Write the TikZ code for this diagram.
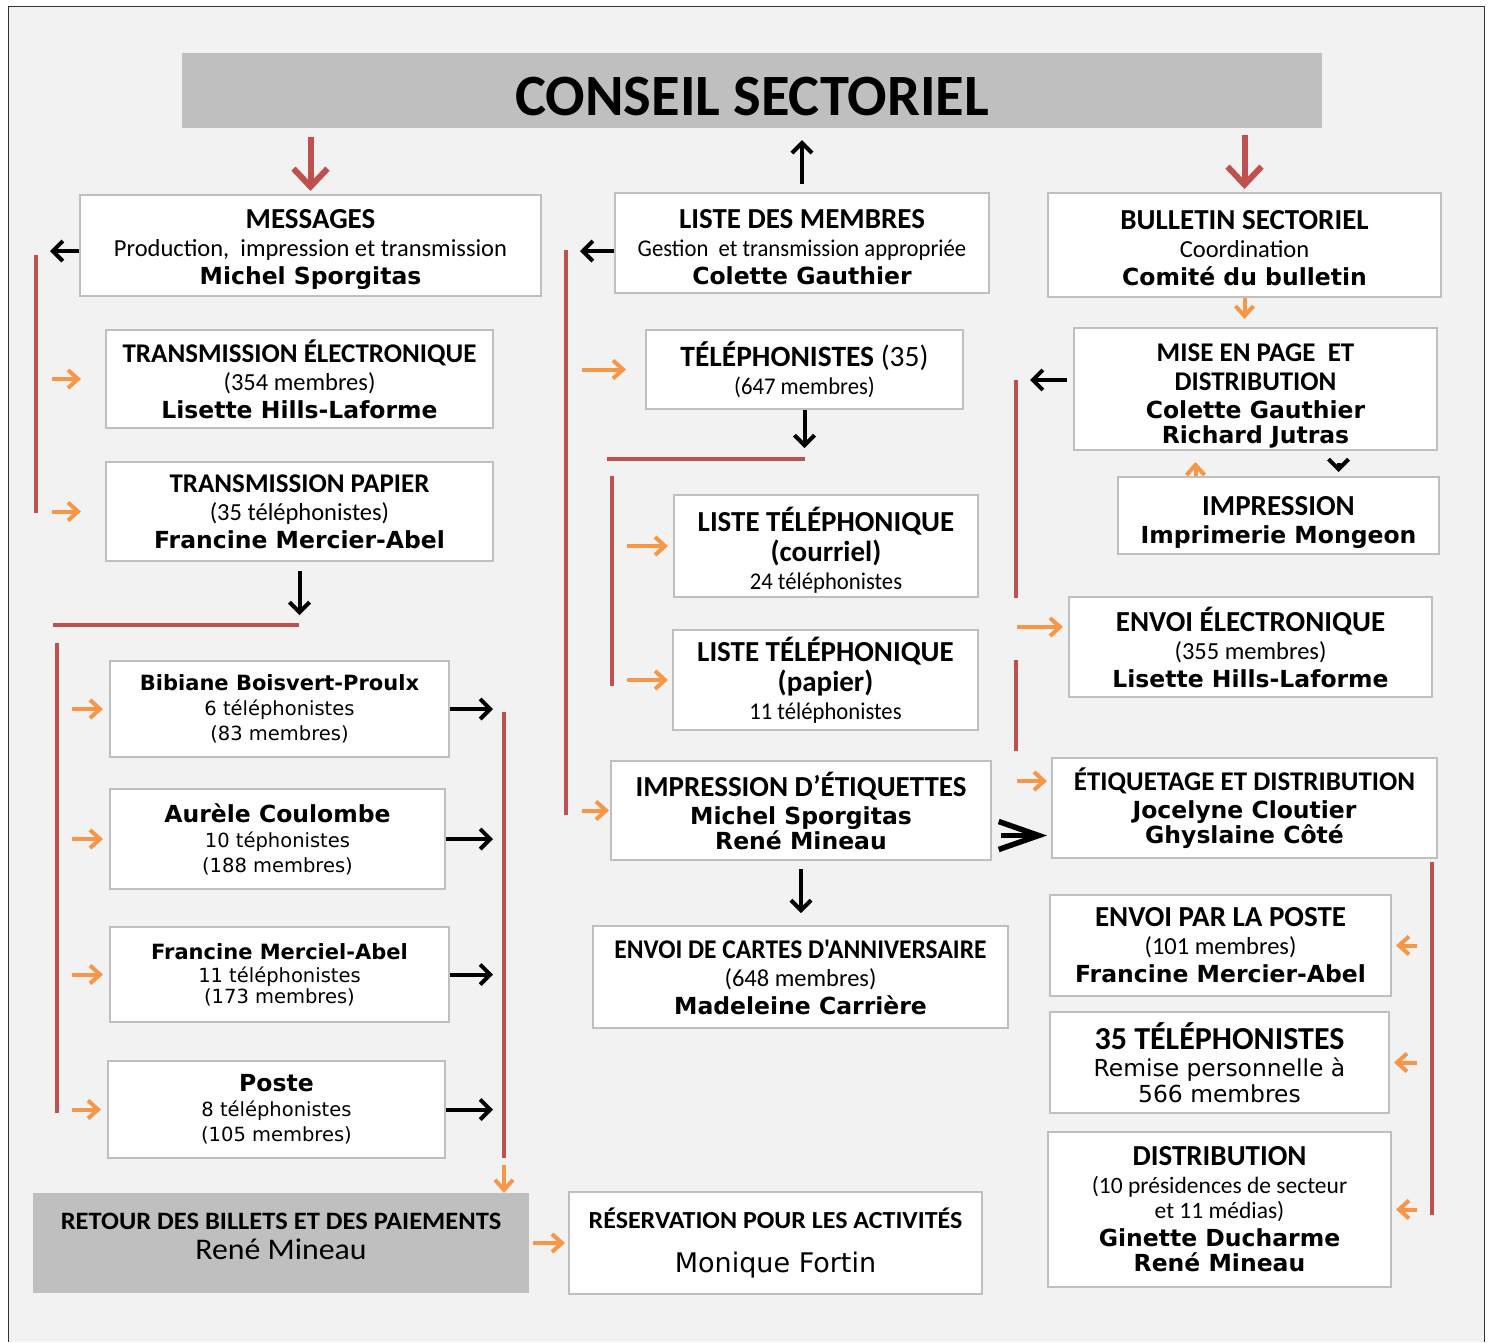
\documentclass[tikz,border=0pt]{standalone}
\usepackage{fontspec}
\setmainfont{Carlito}
\newfontfamily\verdfont{DejaVu Sans}
\newfontfamily\calcond[FakeStretch=0.945]{Carlito}
\newfontfamily\calwide[FakeStretch=1.06]{Carlito}
\usetikzlibrary{arrows.meta,positioning,calc}

\definecolor{fond}{HTML}{F2F2F2}
\definecolor{cadre}{HTML}{BFBFBF}
\definecolor{titre}{HTML}{BFBFBF}
\definecolor{rouge}{HTML}{C0504D}
\definecolor{orangef}{HTML}{F79646}

\newcommand{\bxhead}[1]{{\bfseries\fontsize{29}{28}\selectfont #1}}
\newcommand{\bxheadS}[1]{{\bfseries\fontsize{27}{28}\selectfont #1}}
\newcommand{\bxname}[1]{{\verdfont\bfseries\fontsize{23.5}{28}\selectfont #1}}
\newcommand{\bxverd}[1]{{\verdfont\fontsize{19.5}{28}\selectfont #1}}
\newcommand{\bxcond}[1]{{\calcond\fontsize{24}{28}\selectfont #1}}

\begin{document}
\begin{tikzpicture}[x=1pt,y=-1pt,
  box/.style={draw=cadre,line width=2pt,fill=white,align=center,inner sep=0pt,font=\fontsize{24.5}{28}\selectfont},
  grisbox/.style={fill=titre,align=center,inner sep=0pt,font=\fontsize{24.5}{28}\selectfont},
  barre/.style={rouge,line width=4.5pt},
  flN/.style={-{Straight Barb[length=10pt,width=20pt]},line width=4pt},
  flNB/.style={-{Straight Barb[length=40pt,width=28pt]},line width=5.5pt},
  flO/.style={orangef,-{Straight Barb[length=10pt,width=18pt]},line width=4pt},
  flR/.style={rouge,-{Straight Barb[length=18pt,width=34pt]},line width=6pt}]
\useasboundingbox (0,0) rectangle (1492,1342);
\fill[white] (0,0) rectangle (1492,1342);
\fill[fond] (8,6) rectangle (1484,1342);
\draw[line width=1pt,black!80] (8,1342) -- (8,6) -- (1484,6) -- (1484,1342);

% titre
\node[grisbox,minimum width=1140,minimum height=75,text height=49pt,text depth=0pt,font=\bfseries\fontsize{58.5}{60}\selectfont] (conseil) at (752,90.5) {CONSEIL SECTORIEL};

% premiere rangee
\node[box,minimum width=461,minimum height=101] (msg) at (310.5,245.5)
  {\mbox{}\\[-1pt] \bxhead{MESSAGES}\\ Production,\ \ impression et transmission\\ \bxname{Michel Sporgitas}};
\node[box,minimum width=374,minimum height=100] (liste) at (802,243)
  {\mbox{}\\[-1pt] \bxhead{LISTE DES MEMBRES}\\ \bxcond{Gestion\ \ et transmission appropriée}\\ \bxname{Colette Gauthier}};
\node[box,minimum width=393,minimum height=104] (bull) at (1244.5,245)
  {\mbox{}\\[-3pt] \bxhead{BULLETIN SECTORIEL}\\ Coordination\\ \bxname{Comité du bulletin}};

% messages
\node[box,minimum width=387,minimum height=98] (telec) at (299.5,379)
  {\bxheadS{TRANSMISSION ÉLECTRONIQUE}\\ (354 membres)\\ \bxname{Lisette Hills-Laforme}};
\node[box,minimum width=387,minimum height=99] (tpap) at (299.5,511.5)
  {\bxheadS{TRANSMISSION PAPIER}\\ (35 téléphonistes)\\ \bxname{Francine Mercier-Abel}};
\node[box,minimum width=339,minimum height=96] (bib) at (279.5,709)
  {{\verdfont\bfseries\fontsize{21}{25}\selectfont Bibiane Boisvert-Proulx}\\[-3pt] \bxverd{6 téléphonistes}\\[-3pt] \bxverd{(83 membres)}};
\node[box,minimum width=335,minimum height=100] (aur) at (277.5,839)
  {\bxname{Aurèle Coulombe}\\[-3pt] \bxverd{10 téphonistes}\\[-3pt] \bxverd{(188 membres)}};
\node[box,minimum width=339,minimum height=95] (franc) at (279.5,974.5)
  {{\verdfont\bfseries\fontsize{21}{25}\selectfont Francine Merciel-Abel}\\[-5pt] \bxverd{11 téléphonistes}\\[-7pt] \bxverd{(173 membres)}};
\node[box,minimum width=337,minimum height=97] (poste) at (276.5,1109.5)
  {\bxname{Poste}\\[-3pt] \bxverd{8 téléphonistes}\\[-3pt] \bxverd{(105 membres)}};
\node[grisbox,minimum width=496,minimum height=100] (retour) at (281,1243)
  {{\calwide\bfseries\fontsize{25}{28}\selectfont RETOUR DES BILLETS ET DES PAIEMENTS}\\[2pt] {\calwide\fontsize{30}{30}\selectfont René Mineau}\\[-14pt] \mbox{}};

% liste des membres
\node[box,minimum width=317,minimum height=79] (tel35) at (804.5,369.5)
  {{\bfseries\fontsize{29.5}{28}\selectfont TÉLÉPHONISTES {\mdseries(35)}}\\ \bxcond{(647 membres)}};
\node[box,minimum width=304,minimum height=102] (ltc) at (826,546)
  {\mbox{}\\[4pt] \bxhead{LISTE TÉLÉPHONIQUE}\\[2pt] \bxhead{(courriel)}\\ \bxcond{24 téléphonistes}};
\node[box,minimum width=305,minimum height=100] (ltp) at (825.5,680)
  {\bxhead{LISTE TÉLÉPHONIQUE}\\[2pt] \bxhead{(papier)}\\ \bxcond{11 téléphonistes}};
\node[box,minimum width=380,minimum height=99] (impet) at (801,810.5)
  {\bxhead{IMPRESSION D'ÉTIQUETTES}\\ \bxname{Michel Sporgitas}\\[-3pt] \bxname{René Mineau}};
\node[box,minimum width=415,minimum height=102] (carte) at (800.5,977)
  {{\calcond\bfseries\fontsize{27}{28}\selectfont ENVOI DE CARTES D'ANNIVERSAIRE}\\ (648 membres)\\ \bxname{Madeleine Carrière}};
\node[box,minimum width=413,minimum height=102] (reserv) at (775.5,1243)
  {{\calwide\bfseries\fontsize{24.5}{28}\selectfont RÉSERVATION POUR LES ACTIVITÉS}\\[16pt] {\verdfont\fontsize{27}{28}\selectfont Monique Fortin}};

% bulletin
\node[box,minimum width=363,minimum height=122] (mise) at (1255.5,389)
  {\mbox{}\\[3.4pt] \bxheadS{MISE EN PAGE\ \ ET}\\[1pt] \bxheadS{DISTRIBUTION}\\ \bxname{Colette Gauthier}\\[-3pt] \bxname{Richard Jutras}};
\node[box,minimum width=321,minimum height=77] (impr) at (1278.5,515.5)
  {\mbox{}\\[4.7pt] \bxhead{IMPRESSION}\\ \bxname{Imprimerie Mongeon}};
\node[box,minimum width=363,minimum height=100] (envel) at (1250.5,647)
  {\bxhead{ENVOI ÉLECTRONIQUE}\\ (355 membres)\\ \bxname{Lisette Hills-Laforme}};
\node[box,minimum width=385,minimum height=100] (etiq) at (1244.5,808)
  {\bxheadS{ÉTIQUETAGE ET DISTRIBUTION}\\ \bxname{Jocelyne Cloutier}\\[-3pt] \bxname{Ghyslaine Côté}};
\node[box,minimum width=341,minimum height=101] (envposte) at (1220.5,945.5)
  {\bxhead{ENVOI PAR LA POSTE}\\ (101 membres)\\ \bxname{Francine Mercier-Abel}};
\node[box,minimum width=339,minimum height=101] (tel35b) at (1219.5,1062.5)
  {{\bfseries\fontsize{32}{31}\selectfont 35 TÉLÉPHONISTES}\\[-1pt] {\verdfont\fontsize{23.4}{25}\selectfont Remise personnelle à}\\[-2pt] {\verdfont\fontsize{23.4}{25}\selectfont 566 membres}};
\node[box,minimum width=343,minimum height=155] (distr) at (1219.5,1209.5)
  {\bxhead{DISTRIBUTION}\\ {\fontsize{23.5}{28}\selectfont (10 présidences de secteur}\\[-3pt] {\fontsize{23.5}{28}\selectfont et 11 médias)}\\ \bxname{Ginette Ducharme}\\[-3pt] \bxname{René Mineau}};

% barres rouges
\coordinate (bA1) at (36,255);   \coordinate (bA2) at (36,513);
\coordinate (bB1) at (566,250);  \coordinate (bB2) at (566,815);
\coordinate (bC0) at (607,459);  \coordinate (bC1) at (805,459);
\coordinate (bC2) at (612,476);  \coordinate (bC3) at (612,686);
\coordinate (bD0) at (53,625);   \coordinate (bD1) at (299,625);
\coordinate (bD2) at (57,643);   \coordinate (bD3) at (57,1113);
\coordinate (bE1) at (504,712);  \coordinate (bE2) at (504,1158);
\coordinate (bF1) at (1016,380); \coordinate (bF2) at (1016,598);
\coordinate (bF3) at (1016,660); \coordinate (bF4) at (1016,751);
\coordinate (bG1) at (1432,862); \coordinate (bG2) at (1432,1215);
\draw[barre] (bA1) -- (bA2);
\draw[barre] (bB1) -- (bB2);
\draw[barre] (bC0) -- (bC1);
\draw[barre] (bC2) -- (bC3);
\draw[barre] (bD0) -- (bD1);
\draw[barre] (bD2) -- (bD3);
\draw[barre] (bE1) -- (bE2);
\draw[barre] (bF1) -- (bF2);
\draw[barre] (bF3) -- (bF4);
\draw[barre] (bG1) -- (bG2);

% points de depart decales
\coordinate (pMsg) at ([yshift=-5.5]msg.west);
\coordinate (pListe) at ([yshift=-8]liste.west);
\coordinate (pMise) at ([yshift=9]mise.west);
\coordinate (pEnv) at ([yshift=20]envel.west);
\coordinate (pEti) at ([yshift=27]etiq.west);
\coordinate (pImp) at ([yshift=-25]impet.east);
\coordinate (pUp) at ([xshift=-83]impr.north);
\coordinate (pDn) at ([xshift=60]impr.north);

% fleches du conseil
\draw[flR,shorten <=9pt,shorten >=3pt] (msg.north |- conseil.south) -- (msg.north);
\draw[flR,shorten <=7pt,shorten >=3pt] (bull.north |- conseil.south) -- (bull.north);
\draw[flN,shorten <=8pt,shorten >=12pt] (liste.north) -- (liste.north |- conseil.south);

% messages
\draw[flN,shorten >=14pt] (pMsg) -- (pMsg -| bA1);
\draw[flO,shorten <=16pt,shorten >=24pt] (bA1 |- telec.west) -- (telec.west);
\draw[flO,shorten <=16pt,shorten >=24pt] (bA1 |- tpap.west) -- (tpap.west);
\draw[flN,shorten <=9pt,shorten >=10pt] (tpap.south) -- (tpap.south |- bD1);
\foreach \n in {bib,aur,franc,poste} {
  \draw[flO,shorten <=15pt,shorten >=6pt] (bD2 |- \n.west) -- (\n.west);
  \draw[flN,shorten >=11pt] (\n.east) -- (\n.east -| bE1);
}
\draw[flO,shorten <=7pt] (bE2) -- (bE2 |- retour.north);
\draw[flO,shorten <=4pt,shorten >=3pt] (retour.east) -- (retour.east -| reserv.west);

% liste des membres
\draw[flN,shorten >=14pt] (pListe) -- (pListe -| bB1);
\draw[flO,shorten <=16pt,shorten >=19pt] (bB1 |- tel35.west) -- (tel35.west);
\draw[flO,shorten <=16pt,shorten >=1pt] (bB1 |- impet.west) -- (impet.west);
\draw[flN,shorten >=11pt] (tel35.south) -- (tel35.south |- bC1);
\draw[flO,shorten <=15pt,shorten >=5pt] (bC2 |- ltc.west) -- (ltc.west);
\draw[flO,shorten <=15pt,shorten >=4pt] (bC2 |- ltp.west) -- (ltp.west);
\draw[flN,shorten <=8pt,shorten >=12pt] (impet.south) -- (impet.south |- carte.north);
\draw[flNB,shorten <=9pt,shorten >=4pt] (pImp) -- (pImp -| etiq.west);

% bulletin
\draw[flO,shorten >=8pt] (bull.south) -- (bull.south |- mise.north);
\draw[flN,shorten <=6pt,shorten >=14pt] (pMise) -- (pMise -| bF1);
\draw[flO,shorten >=11pt] (pUp) -- (pUp |- mise.south);
\draw[flN,shorten <=12pt,shorten >=4pt] (pDn |- mise.south) -- (pDn);
\draw[flO,shorten <=1pt,shorten >=5pt] (pEnv -| bF1) -- (pEnv);
\draw[flO,shorten <=1pt,shorten >=4pt] (pEti -| bF1) -- (pEti);
\draw[flO,shorten <=15pt,shorten >=4pt] (bG1 |- envposte.east) -- (envposte.east);
\draw[flO,shorten <=15pt,shorten >=4pt] (bG1 |- tel35b.east) -- (tel35b.east);
\draw[flO,shorten <=15pt,shorten >=4pt] (bG1 |- distr.east) -- (distr.east);
\end{tikzpicture}
\end{document}
